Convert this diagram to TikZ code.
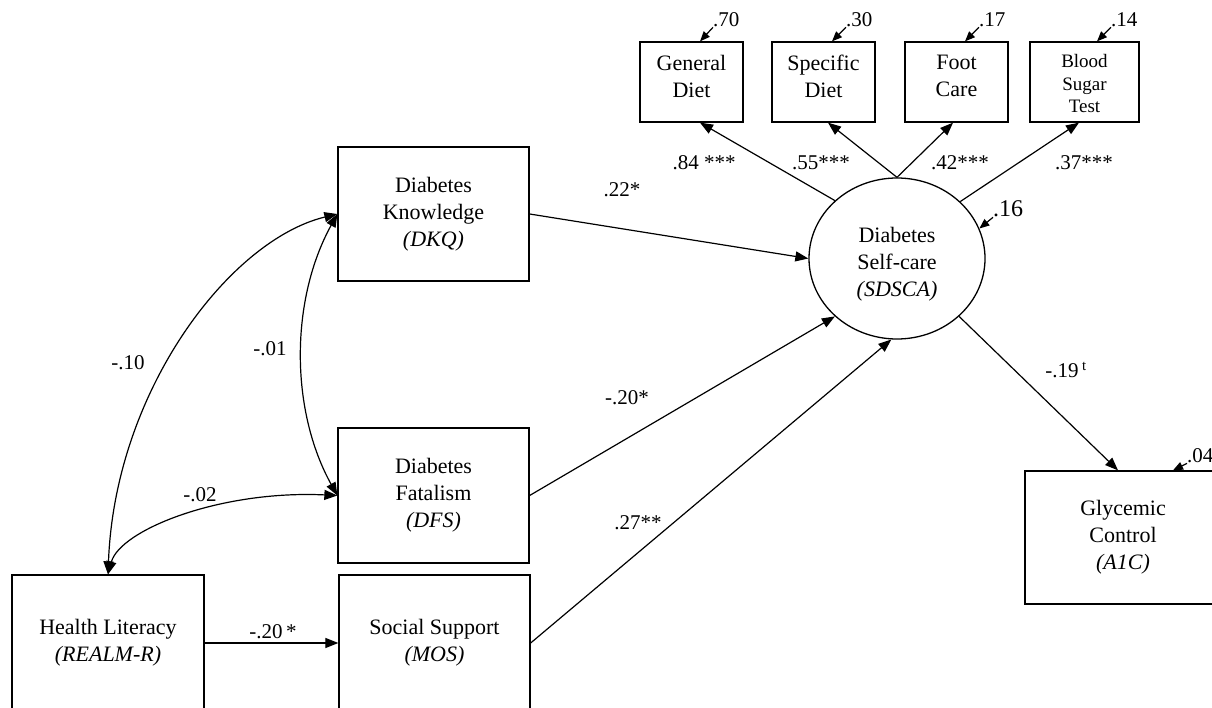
\documentclass[tikz,border=0pt]{standalone}
\usepackage{fontspec}
\setmainfont{Liberation Serif}
\usetikzlibrary{arrows.meta,shapes.geometric,calc}
\newcommand\bxf{\fontsize{22}{27}\selectfont}
\newcommand\smf{\fontsize{19}{22.5}\selectfont}
\newcommand\lbf{\fontsize{21}{24}\selectfont}
\newcommand\bgf{\fontsize{24}{26}\selectfont}
\begin{document}
\begin{tikzpicture}[x=1pt,y=-1pt,
  box/.style={draw,line width=1.3pt,inner sep=0pt,align=center,font=\bxf},
  ebox/.style={draw,line width=1.3pt,inner sep=0pt,minimum height=80pt},
  txt/.style={inner sep=0pt,align=center,font=\bxf},
  lab/.style={inner sep=0pt,font=\lbf},
  arr/.style={line width=1.2pt,-{Triangle[length=13pt,width=10pt]}},
  darr/.style={line width=1.2pt,{Triangle[length=13pt,width=10pt]}-{Triangle[length=13pt,width=10pt]}},
  earr/.style={line width=1.2pt,-{Triangle[length=10pt,width=8pt]}}]
\useasboundingbox (0,0) rectangle (1212,708);
\fill[white] (0,0) rectangle (1212,708);

% main boxes
\node[box,minimum width=191pt,minimum height=134pt] (dkq) at (433.5,214) {Diabetes\\Knowledge\\\textit{(DKQ)}};
\node[box,minimum width=191pt,minimum height=135pt] (dfs) at (433.5,495.5) {Diabetes\\Fatalism\\\textit{(DFS)}};
\node[box,minimum width=192pt,minimum height=136pt] (hl) at (108,643) {Health Literacy\\\textit{(REALM-R)}};
\node[box,minimum width=191pt,minimum height=136pt] (ss) at (434.5,643) {Social Support\\\textit{(MOS)}};
\node[box,minimum width=196pt,minimum height=133pt] (glyc) at (1123,537.5) {Glycemic\\Control\\\textit{(A1C)}};

% latent variable
\node[draw,ellipse,line width=1.3pt,minimum width=176pt,minimum height=161pt,inner sep=0pt] (sdsca) at (897,258.5) {};
\node[txt] (sdscat) at (897,264) {Diabetes\\Self-care\\\textit{(SDSCA)}};

% indicators
\node[ebox,minimum width=103pt] (gd) at (691.5,82) {};
\node[ebox,minimum width=103pt] (sd) at (823.5,82) {};
\node[ebox,minimum width=103pt] (fc) at (956.5,82) {};
\node[ebox,minimum width=109pt] (bs) at (1084.5,82) {};
\node[txt] (gdt) at (691.5,76) {General\\Diet};
\node[txt] (sdt) at (823.5,76) {Specific\\Diet};
\node[txt] (fct) at (956.5,76) {Foot\\Care};
\node[txt,font=\smf] (bst) at (1084.5,84) {Blood\\Sugar\\Test};

% loadings
\draw[arr] (sdsca.137.7) -- ($(gd.south)+(8.5,0)$);
\draw[arr] (sdsca.90) -- ($(sd.south)+(4.5,0)$);
\draw[arr] (sdsca.90) -- ($(fc.south)+(-3.5,0)$);
\draw[arr] (sdsca.42) -- ($(bs.south)+(-5.5,0)$);
\node[lab] (l84) at (704,163) {.84 ***};
\node[lab] (l55) at (821,163) {.55***};
\node[lab] (l42) at (960,163) {.42***};
\node[lab] (l37) at (1084,163) {.37***};

% error terms
\node[lab,anchor=west] (e1) at (713,20) {.70};
\node[lab,anchor=west] (e2) at (846,20) {.30};
\node[lab,anchor=west] (e3) at (979,20) {.17};
\node[lab,anchor=west] (e4) at (1111,20) {.14};
\draw[earr] (e1.south west) -- ($(gd.north)+(8.5,0)$);
\draw[earr] (e2.south west) -- ($(sd.north)+(8.5,0)$);
\draw[earr] (e3.south west) -- ($(fc.north)+(8.5,0)$);
\draw[earr] (e4.south west) -- ($(bs.north)+(12.5,0)$);
\node[lab,font=\bgf,anchor=west] (e5) at (993,209) {.16};
\draw[earr] (e5.south west) -- (sdsca.20);
\node[lab,anchor=west] (e6) at (1187,456) {.04};
\draw[earr] (e6.south west) -- ($(glyc.north)+(50,0)$);

% structural paths
\draw[arr] (dkq.east) -- (sdsca.west);
\draw[arr] (dfs.east) -- (sdsca.223);
\draw[arr] (ss.east) -- (sdsca.266);
\draw[arr] (sdsca.317.6) -- ($(glyc.north)+(-5,0)$);
\draw[arr] (hl.east) -- (ss.west);
\node[lab] (l22) at (622,190) {.22*};
\node[lab] (l20a) at (627,398) {-.20*};
\node[lab] (l27) at (638,523) {.27**};
\node[lab] (l19) at (1066,370) {-.19\,\textsuperscript{t}};
\node[lab] (l20b) at (273,632) {-.20\,*};

% correlations
\draw[darr] (hl.north) .. controls (115,390) and (230,240) .. (dkq.west);
\draw[darr] (dkq.west) .. controls (290,300) and (290,410) .. (dfs.west);
\draw[darr] (hl.north) .. controls (120,530) and (220,490) .. (dfs.west);
\node[lab] (l10) at (128,363) {-.10};
\node[lab] (l01) at (270,349) {-.01};
\node[lab] (l02) at (200,495) {-.02};
\end{tikzpicture}
\end{document}
